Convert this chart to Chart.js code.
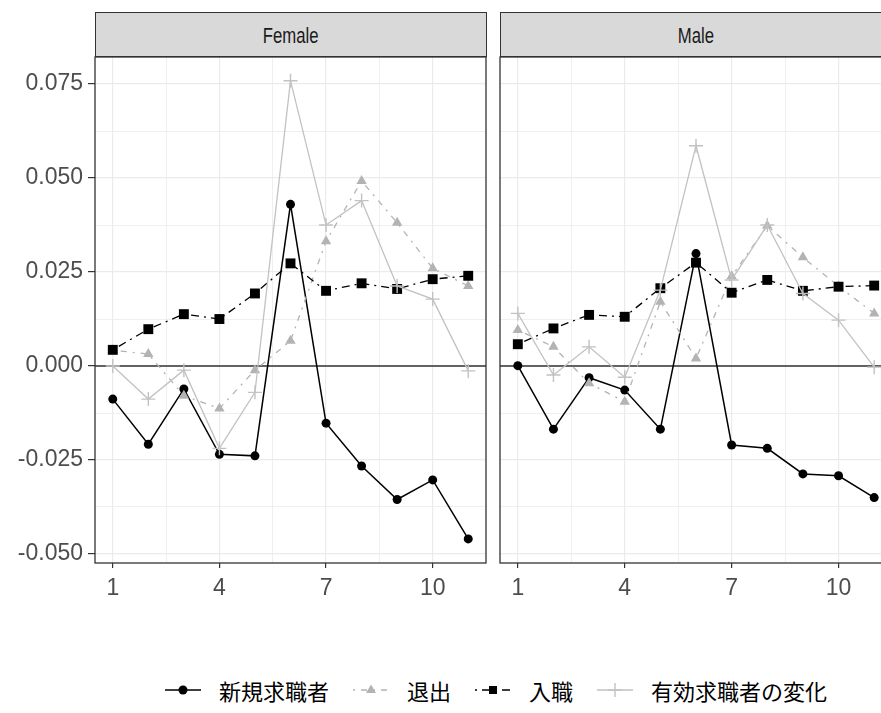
<!DOCTYPE html>
<html>
<head>
<meta charset="utf-8">
<script src="https://cdn.jsdelivr.net/npm/chart.js@4.4.1/dist/chart.umd.min.js"></script>
<style>
  body {
    margin: 0;
    width: 881px;
    height: 713px;
    overflow: hidden;
    background: #fff;
    position: relative;
    font-family: "Liberation Sans", Arial, sans-serif;
  }
  canvas { position: absolute; top: 0; }
  #femaleChart { left: 0; }
  #maleChart { left: 497px; }
  .strip {
    position: absolute;
    top: 12px;
    height: 45px;
    box-sizing: border-box;
    background: #d9d9d9;
    border: 1px solid #333;
    color: #1a1a1a;
    font-size: 22px;
    line-height: 46px;
    text-align: center;
  }
  .strip span { display: inline-block; transform: scaleX(0.76); }
  #stripFemale { left: 95px; width: 392px; }
  #stripMale { left: 500px; width: 392px; }
  #legend {
    position: absolute;
    left: 165px;
    top: 675px;
    height: 30px;
    display: flex;
    align-items: center;
    font-family: "Noto Sans CJK JP", sans-serif;
    font-size: 22px;
    color: #000;
    white-space: nowrap;
  }
  #legend svg { margin-right: 18px; }
  #legend span { margin-right: 24px; }
</style>
</head>
<body>
<div class="strip" id="stripFemale"><span>Female</span></div>
<div class="strip" id="stripMale"><span>Male</span></div>
<canvas id="femaleChart" width="490" height="603"></canvas>
<canvas id="maleChart" width="400" height="603"></canvas>
<div id="legend"></div>

<script>
// months since the start of the window
const MONTHS = [1, 2, 3, 4, 5, 6, 7, 8, 9, 10, 11];

const SERIES_NAMES = ["新規求職者", "退出", "入職", "有効求職者の変化"];

// Female
const newSeekersF = [-0.0088, -0.0208, -0.0061, -0.0235, -0.0239, 0.0430, -0.0152, -0.0266, -0.0355, -0.0303, -0.0460];
const exitsF      = [0.0042, 0.0032, -0.0079, -0.0113, -0.0011, 0.0067, 0.0332, 0.0492, 0.0381, 0.0260, 0.0213];
const hiresF      = [0.0043, 0.0098, 0.0138, 0.0125, 0.0193, 0.0273, 0.0200, 0.0220, 0.0205, 0.0231, 0.0240];
const activeChgF  = [0.0000, -0.0088, -0.0011, -0.0219, -0.0070, 0.0759, 0.0375, 0.0440, 0.0213, 0.0178, -0.0013];

// Male
const newSeekersM = [0.0001, -0.0168, -0.0031, -0.0064, -0.0168, 0.0299, -0.0210, -0.0219, -0.0287, -0.0292, -0.0350];
const exitsM      = [0.0096, 0.0051, -0.0046, -0.0095, 0.0171, 0.0020, 0.0239, 0.0373, 0.0289, 0.0212, 0.0140];
const hiresM      = [0.0058, 0.0100, 0.0136, 0.0131, 0.0207, 0.0275, 0.0195, 0.0229, 0.0200, 0.0211, 0.0214];
const activeChgM  = [0.0140, -0.0024, 0.0051, -0.0030, 0.0202, 0.0586, 0.0229, 0.0375, 0.0193, 0.0122, -0.0003];

const X_MAJOR = [1, 4, 7, 10];
const X_MINOR = [2.5, 5.5, 8.5];
const Y_MAJOR = [-0.05, -0.025, 0, 0.025, 0.05, 0.075];
const Y_MINOR = [-0.0375, -0.0125, 0.0125, 0.0375, 0.0625];
const ZERO_LINE = 0;

const X_MIN = 0.5, X_MAX = 11.5;
const Y_MIN = -0.0524, Y_MAX = 0.0822;

const TICK_FONT = { family: "'Liberation Sans', Arial, sans-serif", size: 23 };
const TICK_COLOR = "#4d4d4d";

const STYLES = [
  { color: "#000000", dash: [], pointStyle: "circle", radius: 4.5, width: 1.5, fill: true, order: 4 },
  { color: "#b3b3b3", dash: [2, 6, 6, 6], pointStyle: "triangle", radius: 6, width: 1.3, fill: true, order: 3 },
  { color: "#000000", dash: [2, 5, 8, 5], pointStyle: "rect", radius: 7, width: 1.3, fill: true, order: 2 },
  { color: "#c2c2c2", dash: [], pointStyle: "cross", radius: 7, width: 1.3, fill: false, order: 1 }
];

function toPoints(values) {
  return MONTHS.map((m, i) => ({ x: m, y: values[i] }));
}

function buildDatasets(seriesList) {
  return seriesList.map((values, i) => {
    const s = STYLES[i];
    return {
      label: SERIES_NAMES[i],
      data: toPoints(values),
      borderColor: s.color,
      backgroundColor: s.color,
      borderWidth: s.width,
      borderDash: s.dash,
      pointStyle: s.pointStyle,
      pointRadius: s.radius,
      pointBorderWidth: s.fill ? 0 : 1.4,
      pointBorderColor: s.color,
      pointBackgroundColor: s.color,
      tension: 0,
      order: s.order
    };
  });
}

const panelPlugin = {
  id: "panel",
  beforeDatasetsDraw(chart) {
    const { ctx, chartArea: a, scales } = chart;
    const y0 = scales.y.getPixelForValue(ZERO_LINE);
    ctx.save();
    ctx.strokeStyle = "#333";
    ctx.lineWidth = 1.3;
    ctx.beginPath();
    ctx.moveTo(a.left, y0);
    ctx.lineTo(a.right, y0);
    ctx.stroke();
    ctx.restore();
  },
  afterDraw(chart) {
    const { ctx, chartArea: a } = chart;
    ctx.save();
    ctx.strokeStyle = "#333";
    ctx.lineWidth = 1.3;
    ctx.strokeRect(a.left, a.top, a.right - a.left, a.bottom - a.top);
    ctx.restore();
  }
};

function isMajor(list, v) {
  return list.some((m) => Math.abs(m - v) < 1e-9);
}

function makeChart(canvasId, seriesList, showYLabels, padding) {
  return new Chart(document.getElementById(canvasId), {
    type: "line",
    data: { datasets: buildDatasets(seriesList) },
    plugins: [panelPlugin],
    options: {
      responsive: false,
      animation: false,
      devicePixelRatio: 1,
      layout: { padding, autoPadding: false },
      plugins: { legend: { display: false }, tooltip: { enabled: false } },
      scales: {
        x: {
          type: "linear",
          min: X_MIN,
          max: X_MAX,
          afterBuildTicks: (s) => {
            s.ticks = [...X_MAJOR, ...X_MINOR].sort((a, b) => a - b).map((v) => ({ value: v }));
          },
          afterFit: (s) => { s.height = 40; },
          border: { display: false },
          grid: {
            color: "#ebebeb",
            lineWidth: (c) => (c.tick && isMajor(X_MAJOR, c.tick.value) ? 1.2 : 0.8),
            tickColor: (c) => (c.tick && isMajor(X_MAJOR, c.tick.value) ? "#333" : "rgba(0,0,0,0)"),
            tickLength: 5,
            tickWidth: 1.2
          },
          ticks: {
            autoSkip: false,
            maxRotation: 0,
            padding: 7,
            color: TICK_COLOR,
            font: TICK_FONT,
            callback: (v) => (isMajor(X_MAJOR, v) ? String(v) : "")
          }
        },
        y: {
          min: Y_MIN,
          max: Y_MAX,
          afterBuildTicks: (s) => {
            s.ticks = [...Y_MAJOR, ...Y_MINOR].sort((a, b) => a - b).map((v) => ({ value: v }));
          },
          afterFit: (s) => { s.width = showYLabels ? 95 : 0; },
          border: { display: false },
          grid: {
            color: "#ebebeb",
            lineWidth: (c) => (c.tick && isMajor(Y_MAJOR, c.tick.value) ? 1.2 : 0.8),
            tickColor: (c) => (c.tick && isMajor(Y_MAJOR, c.tick.value) ? "#333" : "rgba(0,0,0,0)"),
            drawTicks: showYLabels,
            tickLength: 7,
            tickWidth: 1.2
          },
          ticks: {
            display: showYLabels,
            padding: 5,
            color: TICK_COLOR,
            font: TICK_FONT,
            callback: (v) => (isMajor(Y_MAJOR, v) ? v.toFixed(3) : "")
          }
        }
      }
    }
  });
}

makeChart("femaleChart", [newSeekersF, exitsF, hiresF, activeChgF], true,
  { top: 57, right: 4, bottom: 0, left: 0 });
makeChart("maleChart", [newSeekersM, exitsM, hiresM, activeChgM], false,
  { top: 57, right: 5, bottom: 0, left: 3 });

// legend keys
function keySvg(i) {
  const s = STYLES[i];
  const dash = s.dash.length ? `stroke-dasharray="${s.dash.join(" ")}"` : "";
  let mark = "";
  if (s.pointStyle === "circle") {
    mark = `<circle cx="18" cy="10" r="4.5" fill="${s.color}"/>`;
  } else if (s.pointStyle === "triangle") {
    mark = `<polygon points="18,4.5 23,13 13,13" fill="${s.color}"/>`;
  } else if (s.pointStyle === "rect") {
    mark = `<rect x="14" y="6" width="8" height="8" fill="${s.color}"/>`;
  } else {
    mark = `<path d="M18 3 V17 M11 10 H25" stroke="${s.color}" stroke-width="1.4"/>`;
  }
  return `<svg width="36" height="20" viewBox="0 0 36 20">` +
    `<line x1="0" y1="10" x2="36" y2="10" stroke="${s.color}" stroke-width="${s.width}" ${dash}/>` +
    mark + `</svg>`;
}

document.getElementById("legend").innerHTML = SERIES_NAMES
  .map((name, i) => keySvg(i) + `<span>${name}</span>`)
  .join("");
</script>
</body>
</html>
